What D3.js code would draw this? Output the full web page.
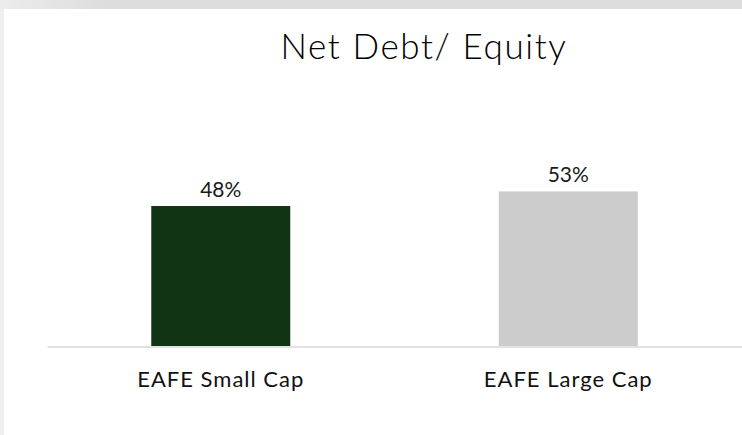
<!DOCTYPE html>
<html>
<head>
<meta charset="utf-8">
<script src="https://cdn.jsdelivr.net/npm/d3@7"></script>
<style>
  html, body { margin: 0; padding: 0; background: #fff; }
  svg { display: block; font-family: Lato, "Open Sans", sans-serif; }
</style>
</head>
<body>
<div id="chart"></div>
<script>
const categories = ["EAFE Small Cap", "EAFE Large Cap"];
const values = [0.48, 0.53];
const barColors = ["#103414", "#cccccc"];
const title = "Net Debt/ Equity";

const W = 742, H = 435;
const margin = {top: 171, right: 0, bottom: 89, left: 47};

const svg = d3.select("#chart")
  .append("svg")
  .attr("width", W)
  .attr("height", H);

// window frame: grey strip on top and left
const defs = svg.append("defs");
const grad = defs.append("linearGradient").attr("id", "topband");
grad.append("stop").attr("offset", "0%").attr("stop-color", "#ececec");
grad.append("stop").attr("offset", "15%").attr("stop-color", "#dcdcdc");
grad.append("stop").attr("offset", "100%").attr("stop-color", "#dcdcdc");

svg.append("rect").attr("width", W).attr("height", 9).attr("fill", "url(#topband)");
svg.append("rect").attr("y", 9).attr("width", 4).attr("height", H - 9).attr("fill", "#efefef");

let x = d3.scaleBand()
  .domain(categories)
  .range([margin.left, W - margin.right])
  .paddingInner(0.6)
  .paddingOuter(0.3);

let y = d3.scaleLinear()
  .domain([0, 0.6])
  .range([H - margin.bottom, margin.top]);

svg.append("text")
  .attr("x", 424)
  .attr("y", 59)
  .attr("text-anchor", "middle")
  .style("font-size", "35px")
  .style("font-weight", 300)
  .style("letter-spacing", "1.6px")
  .style("fill", "#000")
  .text(title);

svg.selectAll(".bar")
  .data(values)
  .enter()
  .append("rect")
  .attr("class", "bar")
  .attr("x", (d, i) => x(categories[i]))
  .attr("y", d => y(d))
  .attr("width", x.bandwidth())
  .attr("height", d => y(0) - y(d))
  .attr("fill", (d, i) => barColors[i]);

svg.selectAll(".value")
  .data(values)
  .enter()
  .append("text")
  .attr("class", "value")
  .attr("x", (d, i) => x(categories[i]) + x.bandwidth() / 2)
  .attr("y", d => y(d) - 9)
  .attr("text-anchor", "middle")
  .style("font-size", "21px")
  .style("fill", "#1a1a1a")
  .text(d => d3.format(".0%")(d));

let axis = svg.append("g")
  .attr("transform", "translate(0," + (y(0) + 0.5) + ")")
  .call(d3.axisBottom(x).tickSize(0).tickSizeOuter(0));

axis.select(".domain")
  .attr("stroke", "#d9d9d9")
  .attr("stroke-width", 1.5);

axis.selectAll("text")
  .attr("y", 40)
  .attr("dy", 0)
  .style("font-family", "Lato, sans-serif")
  .style("font-size", "22px")
  .style("letter-spacing", "1px")
  .style("fill", "#111");
</script>
</body>
</html>
